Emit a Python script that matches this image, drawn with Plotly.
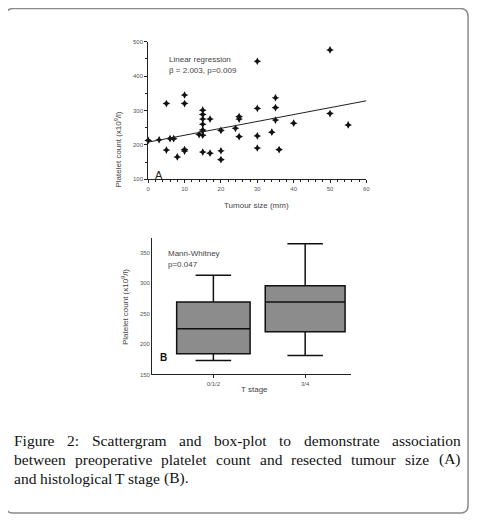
import numpy as np
import plotly.graph_objects as go

# panel A data - tumour size (mm) vs platelet count (x10^9/l)
tumour_size = [0, 3, 5, 5, 6, 7, 8, 10, 10, 10, 10,
               14, 15, 15, 15, 15, 15, 15, 15, 15, 17, 17,
               20, 20, 20, 24, 25, 25, 25, 30, 30, 30, 30,
               34, 35, 35, 35, 36, 40, 50, 50, 55]
platelet = [213, 215, 320, 185, 218, 218, 165, 345, 320, 186, 182,
            230, 301, 288, 275, 260, 244, 240, 228, 179, 275, 176,
            242, 183, 157, 248, 282, 275, 224, 443, 306, 226, 191,
            237, 337, 308, 272, 186, 263, 476, 291, 258]

# regression from the reported fit
reg_slope = 2.003
reg_intercept = 208
reg_x = [0, 60]

# panel B box summary
t_stage = ['0/1/2', '3/4']
box_low = [173, 181]
box_q1 = [184, 220]
box_median = [225, 269]
box_q3 = [269, 296]
box_high = [313, 365]

caption = ['Figure 2: Scattergram and box-plot to demonstrate association',
           'between preoperative platelet count and resected tumour size (A)',
           'and histological T stage (B).']

# the page body has an 8px margin, so the figure is a bit smaller and
# every layout position below is given in window pixels
OFF = 8
W, H = 477 - OFF, 520 - OFF


def px(x):
    return (x - OFF) / W


def py(y):
    return 1 - (y - OFF) / H


tick_font = dict(family='Liberation Sans, Arial', size=6, color='#555555')
title_font = dict(family='Liberation Sans, Arial', size=8, color='#444444')

fig = go.Figure()

# scatter
fig.add_trace(go.Scatter(
    x=tumour_size, y=platelet, mode='markers',
    marker=dict(symbol='star-diamond', size=5.5, color='#111111'),
    xaxis='x', yaxis='y', showlegend=False, cliponaxis=False
))

reg_y = [reg_intercept + reg_slope * v for v in reg_x]
fig.add_trace(go.Scatter(
    x=reg_x, y=reg_y, mode='lines',
    line=dict(color='#222222', width=1),
    xaxis='x', yaxis='y', showlegend=False
))

# boxes
widths = [0.8, 0.87]
for i in range(2):
    fig.add_trace(go.Box(
        x=[i], q1=[box_q1[i]], median=[box_median[i]], q3=[box_q3[i]],
        lowerfence=[box_low[i]], upperfence=[box_high[i]],
        width=widths[i], whiskerwidth=36 / (93 * widths[i]),
        fillcolor='#8c8c8c', line=dict(color='#111111', width=1.5),
        xaxis='x2', yaxis='y2', showlegend=False, boxpoints=False
    ))

axis_common = dict(showline=True, linecolor='#222222', linewidth=1,
                   showgrid=False, zeroline=False, tickfont=tick_font,
                   tickcolor='#222222', ticks='outside', ticklen=3)

fig.update_layout(
    width=W, height=H,
    margin=dict(l=0, r=0, t=0, b=0),
    paper_bgcolor='white', plot_bgcolor='white',
    xaxis=dict(axis_common, domain=[px(148), px(369)], range=[0, 60],
               dtick=10, anchor='y',
               minor=dict(dtick=2, ticks='outside', ticklen=2, tickcolor='#222222')),
    yaxis=dict(axis_common, domain=[py(178.3), py(39)], range=[100, 500],
               dtick=100, anchor='x',
               minor=dict(dtick=50, ticks='outside', ticklen=2, tickcolor='#222222')),
    xaxis2=dict(axis_common, domain=[px(152), px(353)], range=[-0.667, 1.495],
                tickvals=[0, 1], ticktext=t_stage, anchor='y2'),
    yaxis2=dict(axis_common, domain=[py(375.7), py(237.3)], range=[150, 375],
                tickvals=[150, 200, 250, 300, 350], ticks='', anchor='x2'),
)

annotations = [
    dict(x=px(110), y=py(108), text='Platelet count (x10<sup>9</sup>/l)', textangle=-90,
         font=title_font),
    dict(x=px(258), y=py(205), text='Tumour size (mm)', font=title_font),
    dict(x=px(167), y=py(50), text='Linear regression', font=title_font, xanchor='left'),
    dict(x=px(167), y=py(62), text='β = 2.003, p=0.009', font=title_font, xanchor='left'),
    dict(x=px(153), y=py(166), text='A', xanchor='left',
         font=dict(family='Liberation Sans, Arial', size=11, color='#222222')),
    dict(x=px(118), y=py(308), text='Platelet count (x10<sup>9</sup>/l)', textangle=-90,
         font=title_font),
    dict(x=px(256), y=py(398), text='T stage', font=title_font),
    dict(x=px(166), y=py(253), text='Mann-Whitney', font=title_font, xanchor='left'),
    dict(x=px(166), y=py(265), text='p=0.047', font=title_font, xanchor='left'),
    dict(x=px(158), y=py(366), text='<b>B</b>', xanchor='left',
         font=dict(family='Liberation Sans, Arial', size=10, color='#111111')),
]

# caption: justified by hand, using approximate Times widths (1/1000 em)
cap_size = 15.5
cap_font = dict(family='Liberation Serif, Times New Roman', size=cap_size, color='#111111')
tw = dict(a=444, b=500, c=444, d=500, e=444, f=333, g=500, h=500, i=278, j=278,
          k=500, l=278, m=778, n=500, o=500, p=500, q=500, r=333, s=389, t=278,
          u=500, v=500, w=722, x=500, y=500, z=444, F=556, S=556, T=611, A=722,
          B=667)
tw.update({'(': 333, ')': 333, '.': 250, ':': 278, '-': 333, '2': 500, ' ': 250})


def word_w(w):
    return sum(tw.get(ch, 500) for ch in w) * cap_size / 1000


left, right = 11, 463
baselines = [445, 464.5, 483.5]
for k, (line, base) in enumerate(zip(caption, baselines)):
    words = line.split(' ')
    if k < len(caption) - 1:
        gap = (right - left - sum(word_w(w) for w in words)) / (len(words) - 1)
    else:
        gap = word_w(' ')
    xs = left
    for w in words:
        annotations.append(dict(x=px(xs), y=py(base + 7), text=w, xanchor='left',
                                yanchor='bottom', font=cap_font, borderpad=0))
        xs += word_w(w) + gap

for a in annotations:
    a.setdefault('xref', 'paper')
    a.setdefault('yref', 'paper')
    a.setdefault('showarrow', False)
fig.update_layout(annotations=annotations)

# rounded frame around the figure
x0, x1, y0, y1, r = 3.5, 472, 5.5, 516, 8
path = (f'M {px(x0 + r)},{py(y0)} L {px(x1 - r)},{py(y0)} '
        f'Q {px(x1)},{py(y0)} {px(x1)},{py(y0 + r)} '
        f'L {px(x1)},{py(y1 - r)} Q {px(x1)},{py(y1)} {px(x1 - r)},{py(y1)} '
        f'L {px(x0 + r)},{py(y1)} Q {px(x0)},{py(y1)} {px(x0)},{py(y1 - r)} '
        f'L {px(x0)},{py(y0 + r)} Q {px(x0)},{py(y0)} {px(x0 + r)},{py(y0)} Z')
fig.add_shape(type='path', path=path, xref='paper', yref='paper',
              line=dict(color='#8a8a8a', width=1.5))

fig.write_html('out.html')
